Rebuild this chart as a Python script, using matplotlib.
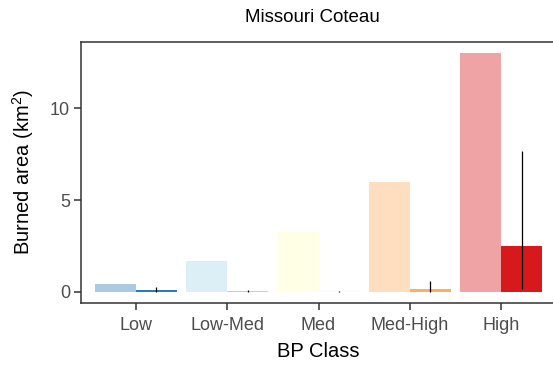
import matplotlib.pyplot as plt
import numpy as np

plt.rcParams['font.family'] = ['Liberation Sans', 'DejaVu Sans']
plt.rcParams['mathtext.fontset'] = 'custom'
plt.rcParams['mathtext.rm'] = 'Liberation Sans'

classes = ['Low', 'Low-Med', 'Med', 'Med-High', 'High']
colors = ['#2c7bb6', '#abd9e9', '#ffffbf', '#fdae61', '#d7191c']
total_area = [0.44, 1.71, 3.27, 5.97, 13.0]
burned = [0.09, 0.06, 0.03, 0.19, 2.53]
err_low = [0.0, 0.0, 0.0, 0.0, 0.15]
err_high = [0.26, 0.1, 0.05, 0.6, 7.7]

fig = plt.figure(figsize=(5.53, 3.68), dpi=100)
ax = fig.add_axes([81 / 553, 65 / 368, 475 / 553, 261 / 368])

x = np.arange(1, len(classes) + 1)
w = 0.45
ax.bar(x - w / 2, total_area, width=w, color=colors, alpha=0.4, linewidth=0)
ax.bar(x + w / 2, burned, width=w, color=colors, linewidth=0)
ax.vlines(x + w / 2, err_low, err_high, color='black', linewidth=0.9)

ax.set_xlim(0.4, 5.6)
ax.set_ylim(-0.6, 13.62)
ax.set_xticks(x)
ax.set_xticklabels(classes)
ax.set_yticks([0, 5, 10])
ax.tick_params(colors='#333333', labelcolor='#4d4d4d', labelsize=13,
               length=5, width=1.1, pad=3)
ax.tick_params(axis='x', pad=5)
for s in ax.spines.values():
    s.set_color('#333333')
    s.set_linewidth(1.1)

ax.set_xlabel('BP Class', fontsize=14.5, labelpad=6)
ax.set_ylabel('Burned area (km$^2$)', fontsize=14.5, labelpad=10)
fig.text(312 / 553, 1 - 17 / 368, 'Missouri Coteau', ha='center', va='center',
         fontsize=13.5)

fig.savefig('out.png', dpi=100)
